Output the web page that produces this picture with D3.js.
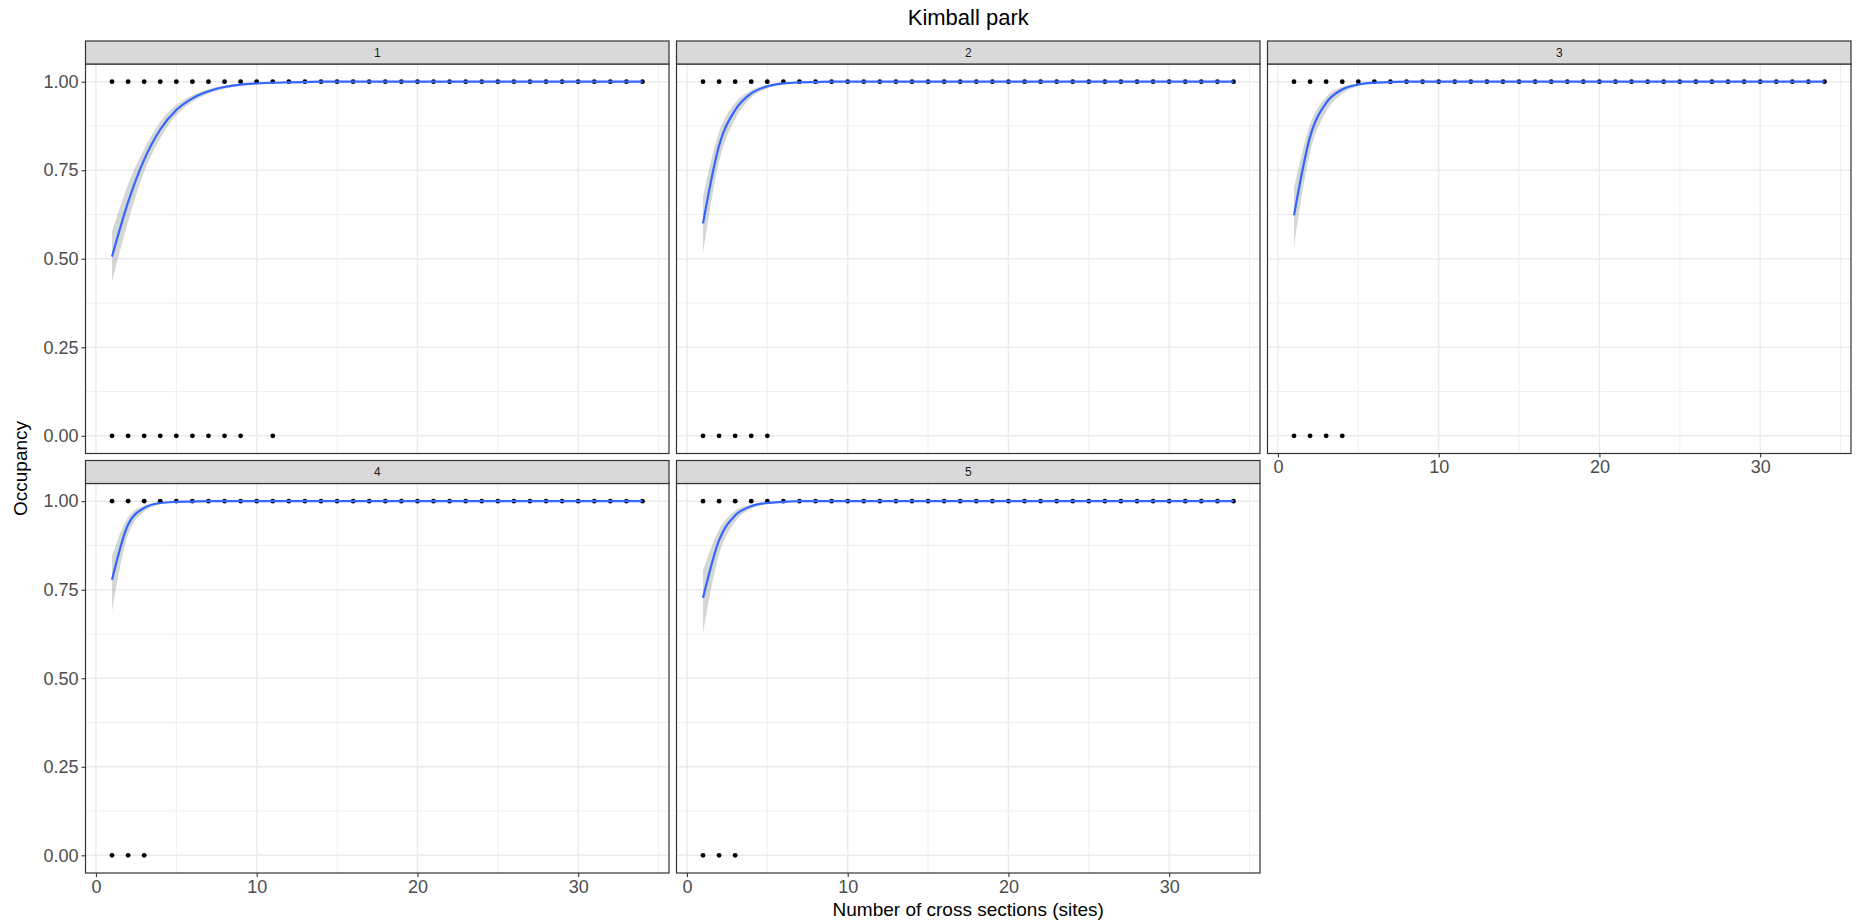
<!DOCTYPE html>
<html>
<head>
<meta charset="utf-8">
<script src="https://cdn.jsdelivr.net/npm/d3@7"></script>
<style>
  body { margin: 0; background: #fff; }
  text { font-family: "Liberation Sans", Arial, sans-serif; }
</style>
</head>
<body>
<svg id="chart" width="1861" height="923"></svg>
<script>
// ---- data ---------------------------------------------------------------
const chartTitle = "Kimball park";
const xTitle = "Number of cross sections (sites)";
const yTitle = "Occupancy";

const panelLabels = ["1", "2", "3", "4", "5"];

// number of cross sections sampled
const sites = [1, 2, 3, 4, 5, 6, 7, 8, 9, 10, 11, 12, 13, 14, 15, 16, 17,
               18, 19, 20, 21, 22, 23, 24, 25, 26, 27, 28, 29, 30, 31, 32, 33, 34];

// site counts at which a zero-occupancy outcome was observed
const zeroSites1 = [1, 2, 3, 4, 5, 6, 7, 8, 9, 11];
const zeroSites2 = [1, 2, 3, 4, 5];
const zeroSites3 = [1, 2, 3, 4];
const zeroSites4 = [1, 2, 3];
const zeroSites5 = [1, 2, 3];

// fitted occupancy (logistic smooth) with its confidence band, sites 1..34
const fit1 = [0.506, 0.660, 0.780, 0.865, 0.920, 0.953, 0.973, 0.985, 0.992, 0.995, 0.997, 0.998,
              0.999, 1, 1, 1, 1, 1, 1, 1, 1, 1, 1, 1, 1, 1, 1, 1, 1, 1, 1, 1, 1, 1];
const lo1  = [0.435, 0.605, 0.745, 0.840, 0.905, 0.943, 0.966, 0.980, 0.988, 0.992, 0.995, 0.997,
              0.998, 0.999, 1, 1, 1, 1, 1, 1, 1, 1, 1, 1, 1, 1, 1, 1, 1, 1, 1, 1, 1, 1];
const hi1  = [0.577, 0.710, 0.810, 0.887, 0.934, 0.962, 0.979, 0.989, 0.995, 0.997, 0.999, 0.999,
              1, 1, 1, 1, 1, 1, 1, 1, 1, 1, 1, 1, 1, 1, 1, 1, 1, 1, 1, 1, 1, 1];

const fit2 = [0.600, 0.820, 0.920, 0.967, 0.987, 0.995, 0.998, 0.999, 1, 1, 1, 1,
              1, 1, 1, 1, 1, 1, 1, 1, 1, 1, 1, 1, 1, 1, 1, 1, 1, 1, 1, 1, 1, 1];
const lo2  = [0.516, 0.775, 0.895, 0.955, 0.981, 0.992, 0.997, 0.999, 1, 1, 1, 1,
              1, 1, 1, 1, 1, 1, 1, 1, 1, 1, 1, 1, 1, 1, 1, 1, 1, 1, 1, 1, 1, 1];
const hi2  = [0.675, 0.858, 0.940, 0.976, 0.991, 0.997, 0.999, 1, 1, 1, 1, 1,
              1, 1, 1, 1, 1, 1, 1, 1, 1, 1, 1, 1, 1, 1, 1, 1, 1, 1, 1, 1, 1, 1];

const fit3 = [0.623, 0.845, 0.940, 0.978, 0.992, 0.997, 0.999, 1, 1, 1, 1, 1,
              1, 1, 1, 1, 1, 1, 1, 1, 1, 1, 1, 1, 1, 1, 1, 1, 1, 1, 1, 1, 1, 1];
const lo3  = [0.534, 0.800, 0.915, 0.966, 0.987, 0.995, 0.998, 1, 1, 1, 1, 1,
              1, 1, 1, 1, 1, 1, 1, 1, 1, 1, 1, 1, 1, 1, 1, 1, 1, 1, 1, 1, 1, 1];
const hi3  = [0.700, 0.880, 0.957, 0.986, 0.995, 0.999, 1, 1, 1, 1, 1, 1,
              1, 1, 1, 1, 1, 1, 1, 1, 1, 1, 1, 1, 1, 1, 1, 1, 1, 1, 1, 1, 1, 1];

const fit4 = [0.778, 0.934, 0.981, 0.995, 0.998, 0.999, 1, 1, 1, 1, 1, 1,
              1, 1, 1, 1, 1, 1, 1, 1, 1, 1, 1, 1, 1, 1, 1, 1, 1, 1, 1, 1, 1, 1];
const lo4  = [0.689, 0.905, 0.970, 0.991, 0.997, 0.999, 1, 1, 1, 1, 1, 1,
              1, 1, 1, 1, 1, 1, 1, 1, 1, 1, 1, 1, 1, 1, 1, 1, 1, 1, 1, 1, 1, 1];
const hi4  = [0.845, 0.955, 0.988, 0.997, 0.999, 1, 1, 1, 1, 1, 1, 1,
              1, 1, 1, 1, 1, 1, 1, 1, 1, 1, 1, 1, 1, 1, 1, 1, 1, 1, 1, 1, 1, 1];

const fit5 = [0.727, 0.890, 0.960, 0.986, 0.995, 0.998, 1, 1, 1, 1, 1, 1,
              1, 1, 1, 1, 1, 1, 1, 1, 1, 1, 1, 1, 1, 1, 1, 1, 1, 1, 1, 1, 1, 1];
const lo5  = [0.628, 0.850, 0.942, 0.979, 0.992, 0.997, 0.999, 1, 1, 1, 1, 1,
              1, 1, 1, 1, 1, 1, 1, 1, 1, 1, 1, 1, 1, 1, 1, 1, 1, 1, 1, 1, 1, 1];
const hi5  = [0.805, 0.920, 0.973, 0.991, 0.997, 0.999, 1, 1, 1, 1, 1, 1,
              1, 1, 1, 1, 1, 1, 1, 1, 1, 1, 1, 1, 1, 1, 1, 1, 1, 1, 1, 1, 1, 1];

const xTicks = [0, 10, 20, 30];
const xMinor = [5, 15, 25, 35];
const yTicks = [0, 0.25, 0.5, 0.75, 1];
const yMinor = [0.125, 0.375, 0.625, 0.875];
const yTickLabels = ["0.00", "0.25", "0.50", "0.75", "1.00"];

// ---- layout -------------------------------------------------------------
const svg = d3.select("#chart");
const plotLeft = 85.5, plotRight = 1851;
const colGap = 7.5;
const panelW = (plotRight - plotLeft - 2 * colGap) / 3;
const stripTop = 41, stripH = 23, panelH = 389.5, rowPitch = 419.5;

const panels = [
  { label: panelLabels[0], row: 0, col: 0, zeros: zeroSites1, fit: fit1, lo: lo1, hi: hi1, xAxis: false },
  { label: panelLabels[1], row: 0, col: 1, zeros: zeroSites2, fit: fit2, lo: lo2, hi: hi2, xAxis: false },
  { label: panelLabels[2], row: 0, col: 2, zeros: zeroSites3, fit: fit3, lo: lo3, hi: hi3, xAxis: true },
  { label: panelLabels[3], row: 1, col: 0, zeros: zeroSites4, fit: fit4, lo: lo4, hi: hi4, xAxis: true },
  { label: panelLabels[4], row: 1, col: 1, zeros: zeroSites5, fit: fit5, lo: lo5, hi: hi5, xAxis: true }
];

const x = d3.scaleLinear().domain([-0.65, 35.65]).range([0, panelW]);
const y = d3.scaleLinear().domain([-0.05, 1.05]).range([panelH, 0]);

const gridCol = "#ebebeb";
const frameCol = "#333333";
const tickTextCol = "#4d4d4d";
const fontStack = '"Liberation Sans", Arial, sans-serif';

panels.forEach(p => {
  const px = plotLeft + p.col * (panelW + colGap);
  const sy = stripTop + p.row * rowPitch;
  const py = sy + stripH;
  const g = svg.append("g").attr("transform", `translate(${px},${py})`);

  // panel background and grid
  g.append("rect").attr("width", panelW).attr("height", panelH).attr("fill", "#fff");
  g.selectAll("line.ymin").data(yMinor).join("line")
    .attr("x1", 0).attr("x2", panelW).attr("y1", d => y(d)).attr("y2", d => y(d))
    .attr("stroke", gridCol).attr("stroke-width", 0.8);
  g.selectAll("line.xmin").data(xMinor).join("line")
    .attr("y1", 0).attr("y2", panelH).attr("x1", d => x(d)).attr("x2", d => x(d))
    .attr("stroke", gridCol).attr("stroke-width", 0.8);
  g.selectAll("line.ymaj").data(yTicks).join("line")
    .attr("x1", 0).attr("x2", panelW).attr("y1", d => y(d)).attr("y2", d => y(d))
    .attr("stroke", gridCol).attr("stroke-width", 1.4);
  g.selectAll("line.xmaj").data(xTicks).join("line")
    .attr("y1", 0).attr("y2", panelH).attr("x1", d => x(d)).attr("x2", d => x(d))
    .attr("stroke", gridCol).attr("stroke-width", 1.4);

  // observed outcomes: occupied at every site count, unoccupied at a few
  const pts = sites.map(s => ({ s, v: 1 })).concat(p.zeros.map(s => ({ s, v: 0 })));
  g.selectAll("circle.obs").data(pts).join("circle")
    .attr("cx", d => x(d.s)).attr("cy", d => y(d.v)).attr("r", 2.4)
    .attr("fill", "#000");

  // confidence band and fitted curve
  const band = sites.map((s, i) => ({ s, lo: p.lo[i], hi: p.hi[i] }));
  g.append("path").datum(band)
    .attr("d", d3.area().x(d => x(d.s)).y0(d => y(d.lo)).y1(d => y(d.hi)).curve(d3.curveMonotoneX))
    .attr("fill", "#999999").attr("fill-opacity", 0.4);
  const line = sites.map((s, i) => ({ s, v: p.fit[i] }));
  g.append("path").datum(line)
    .attr("d", d3.line().x(d => x(d.s)).y(d => y(d.v)).curve(d3.curveMonotoneX))
    .attr("fill", "none").attr("stroke", "#3366FF").attr("stroke-width", 2.2);

  // panel border
  g.append("rect").attr("width", panelW).attr("height", panelH)
    .attr("fill", "none").attr("stroke", frameCol).attr("stroke-width", 1.2);

  // strip
  const sg = svg.append("g").attr("transform", `translate(${px},${sy})`);
  sg.append("rect").attr("width", panelW).attr("height", stripH)
    .attr("fill", "#d9d9d9").attr("stroke", frameCol).attr("stroke-width", 1.2);
  sg.append("text").attr("x", panelW / 2).attr("y", stripH / 2)
    .attr("dy", "0.35em").attr("text-anchor", "middle")
    .attr("font-size", 12).attr("fill", "#1a1a1a").text(p.label);

  // y axis on the first column
  if (p.col === 0) {
    const ya = d3.axisLeft(y).tickValues(yTicks).tickFormat((d, i) => yTickLabels[i])
      .tickSize(4).tickPadding(3);
    const ag = g.append("g").call(ya);
    ag.select(".domain").remove();
    ag.selectAll(".tick line").attr("stroke", frameCol).attr("stroke-width", 1.1);
    ag.selectAll(".tick text").attr("fill", tickTextCol).attr("font-size", 18)
      .attr("font-family", fontStack);
  }
  // x axis where no panel sits below
  if (p.xAxis) {
    const xa = d3.axisBottom(x).tickValues(xTicks).tickFormat(d3.format("d"))
      .tickSize(4).tickPadding(3);
    const ag = g.append("g").attr("transform", `translate(0,${panelH})`).call(xa);
    ag.select(".domain").remove();
    ag.selectAll(".tick line").attr("stroke", frameCol).attr("stroke-width", 1.1);
    ag.selectAll(".tick text").attr("fill", tickTextCol).attr("font-size", 18)
      .attr("font-family", fontStack);
  }
});

// titles, centred over the panel area
const panelsMid = (plotLeft + plotRight) / 2;
svg.append("text").attr("x", panelsMid).attr("y", 25).attr("text-anchor", "middle")
  .attr("font-size", 22).attr("fill", "#000").text(chartTitle);
svg.append("text").attr("x", panelsMid).attr("y", 916).attr("text-anchor", "middle")
  .attr("font-size", 19).attr("fill", "#000").text(xTitle);
const yMid = (stripTop + stripH + stripTop + rowPitch + stripH + panelH) / 2;
svg.append("text").attr("transform", `translate(27,${yMid}) rotate(-90)`)
  .attr("text-anchor", "middle").attr("font-size", 19).attr("fill", "#000").text(yTitle);
</script>
</body>
</html>
